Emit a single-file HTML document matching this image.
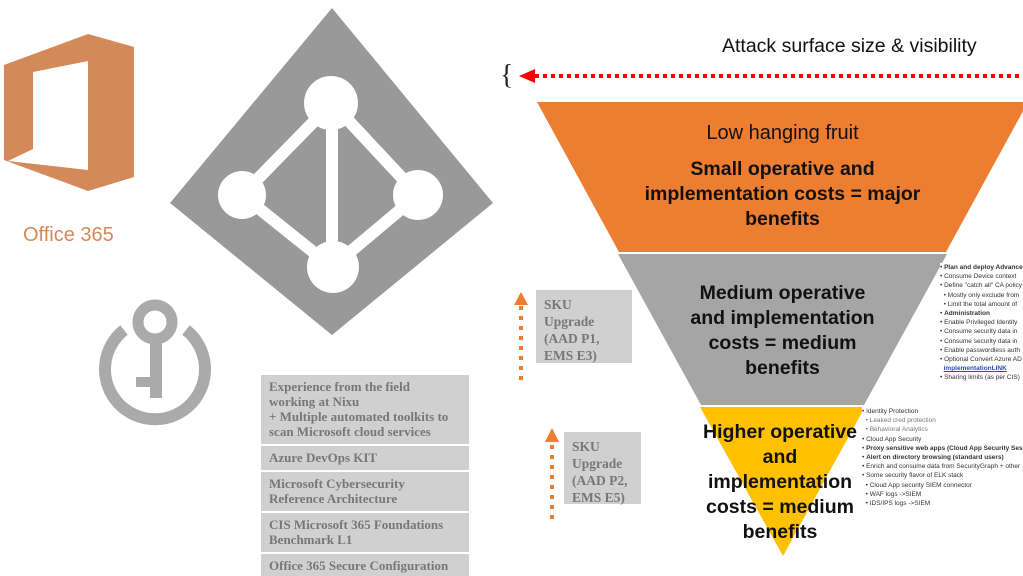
<!DOCTYPE html>
<html><head><meta charset="utf-8"><style>
body{margin:0;width:1023px;height:576px;overflow:hidden;background:#fff;font-family:"Liberation Sans",sans-serif;position:relative}
.box{position:absolute;left:261px;width:208px;background:#d0d0d0;color:#777;font-family:"Liberation Serif",serif;font-weight:bold;font-size:13px;line-height:15px;padding:4px 20px 4px 8px;box-sizing:border-box}
.sku{position:absolute;background:#d0d0d0;color:#777;font-family:"Liberation Serif",serif;font-weight:bold;font-size:13.5px;line-height:17px;padding:6px 8px;box-sizing:border-box}
.t{position:absolute;text-align:center;color:#111}
.notes{position:absolute;font-size:6.5px;line-height:9.2px;color:#333;white-space:nowrap;overflow:hidden;background:#fff}
</style></head><body>
<svg width="1023" height="576" style="position:absolute;left:0;top:0">
<polygon points="4,65 88,34 134,47 134,177 88,191 4,160" fill="#d4895a"/>
<polygon points="33,72 88,61 88,170 8,161 33,149" fill="#fff"/>
<polygon points="332,8 493,203 332,335 170,203" fill="#999"/>
<g stroke="#fff" stroke-width="12">
<line x1="332" y1="103" x2="242" y2="195"/><line x1="332" y1="103" x2="418" y2="195"/>
<line x1="242" y1="195" x2="332" y2="267"/><line x1="418" y1="195" x2="332" y2="267"/>
<line x1="332" y1="103" x2="332" y2="267"/></g>
<g fill="#fff"><circle cx="331" cy="103" r="27"/><circle cx="242" cy="195" r="24"/><circle cx="418" cy="195" r="25"/><circle cx="333" cy="267" r="26"/></g>
<path d="M124,330 A50,50 0 1 0 186,330" fill="none" stroke="#aaa" stroke-width="12"/>
<circle cx="155" cy="322" r="17" fill="none" stroke="#aaa" stroke-width="11"/>
<rect x="150" y="336" width="12" height="62" fill="#aaa"/>
<rect x="136" y="377" width="18" height="10" fill="#aaa"/>
<polygon points="537,102 1028,102 946,252 619,252" fill="#ed7d31"/>
<polygon points="618,254 947,254 864,405 701,405" fill="#a5a5a5"/>
<polygon points="700,407 865,407 783,556" fill="#ffc000"/>
<line x1="535" y1="76" x2="1023" y2="76" stroke="#f00" stroke-width="4" stroke-dasharray="4,4"/>
<polygon points="519,76 535,69 535,83" fill="#f00"/>
<line x1="521" y1="306" x2="521" y2="380" stroke="#ed7d31" stroke-width="4" stroke-dasharray="4,6"/>
<polygon points="521,292 514,305 528,305" fill="#ed7d31"/>
<line x1="552" y1="445" x2="552" y2="520" stroke="#ed7d31" stroke-width="4" stroke-dasharray="4,6"/>
<polygon points="552,428 545,442 559,442" fill="#ed7d31"/>
</svg>
<div style="position:absolute;left:500px;top:60px;font-size:28px;font-family:'Liberation Serif',serif;color:#222">{</div>
<div style="position:absolute;left:23px;top:224px;font-size:20px;color:#d4895a">Office 365</div>
<div style="position:absolute;left:722px;top:35px;font-size:19.5px;color:#111">Attack surface size &amp; visibility</div>
<div class="t" style="left:620px;top:122px;width:325px;font-size:20px">Low hanging fruit</div>
<div class="t" style="left:620px;top:157px;width:325px;font-size:19.5px;line-height:25px;font-weight:bold">Small operative and implementation costs = major benefits</div>
<div class="t" style="left:680px;top:281px;width:205px;font-size:19.5px;line-height:25px;font-weight:bold">Medium operative and implementation costs = medium benefits</div>
<div class="t" style="left:690px;top:420px;width:180px;font-size:19.5px;line-height:25px;font-weight:bold">Higher operative and implementation costs = medium benefits</div>
<div class="notes" style="left:940px;top:263px;width:83px;height:120px">• <b>Plan and deploy Advanced</b><br>• Consume Device context<br>• Define "catch all" CA policy<br>&nbsp;&nbsp;• Mostly only exclude from<br>&nbsp;&nbsp;• Limit the total amount of<br>• <b>Administration</b><br>• Enable Privileged Identity<br>• Consume security data in<br>• Consume security data in<br>• Enable passwordless auth<br>• Optional Convert Azure AD<br>&nbsp;&nbsp;<u style="color:#1f4fc0"><b>implementationLINK</b></u><br>• Sharing limits (as per CIS)</div>
<div class="notes" style="left:862px;top:407px;width:161px;height:105px">• Identity Protection<br>&nbsp;&nbsp;<span style="color:#777">• Leaked cred protection</span><br>&nbsp;&nbsp;<span style="color:#777">• Behavioral Analytics</span><br>• Cloud App Security<br>• <b>Proxy sensitive web apps (Cloud App Security Session</b><br>• <b>Alert on directory browsing (standard users)</b><br>• Enrich and consume data from SecurityGraph + other<br>• Some security flavor of ELK stack<br>&nbsp;&nbsp;• Cloud App security SIEM connector<br>&nbsp;&nbsp;• WAF logs -&gt;SIEM<br>&nbsp;&nbsp;• IDS/IPS logs -&gt;SIEM</div>
<div class="sku" style="left:536px;top:290px;width:96px;height:73px">SKU<br>Upgrade<br>(AAD P1,<br>EMS E3)</div>
<div class="sku" style="left:564px;top:432px;width:77px;height:72px">SKU<br>Upgrade<br>(AAD P2,<br>EMS E5)</div>
<div class="box" style="top:375px;height:69px">Experience from the field working at Nixu<br>+ Multiple automated toolkits to scan Microsoft cloud services</div>
<div class="box" style="top:446px;height:24px">Azure DevOps KIT</div>
<div class="box" style="top:472px;height:39px">Microsoft Cybersecurity Reference Architecture</div>
<div class="box" style="top:513px;height:39px">CIS Microsoft 365 Foundations Benchmark L1</div>
<div class="box" style="top:554px;height:22px;padding-right:4px">Office 365 Secure Configuration</div>
</body></html>
